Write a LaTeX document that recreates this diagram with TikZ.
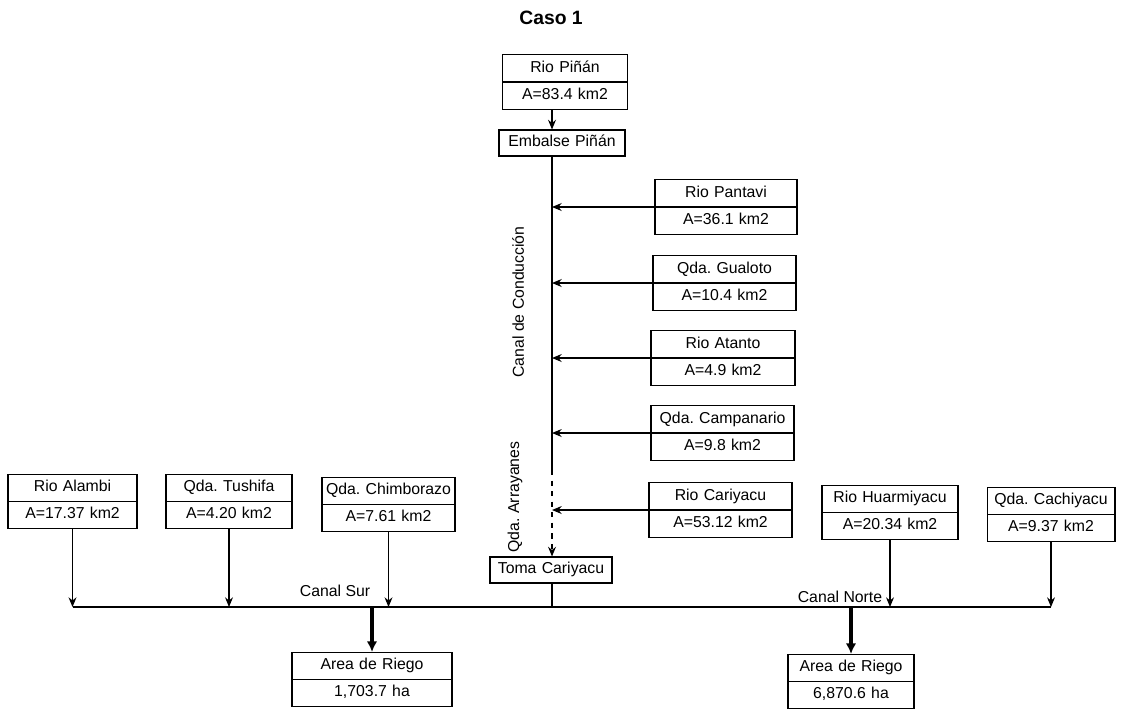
\documentclass[tikz,border=0pt]{standalone}
\usepackage{fontspec}
\setmainfont{Liberation Sans}
\usetikzlibrary{shapes.multipart,arrows.meta,positioning}

\begin{document}
\begin{tikzpicture}[
        x=0.02cm, y=-0.02cm,
        font=\fontsize{9}{11}\selectfont,
        line width=0.6pt,
        cuenca/.style={rectangle split, rectangle split parts=2, draw, align=center, inner xsep=0pt, inner ysep=1.9pt},
        caja/.style={rectangle, draw, align=center, inner xsep=0pt, inner ysep=1.9pt},
        arrow/.style={-{Stealth[length=5.5pt,width=4.5pt]}},
        riego/.style={-{Latex[length=6pt,width=6pt]}, line width=1.8pt}
    ]
        \useasboundingbox (0,0) rectangle (1125,714);

        % Titulo
        \node (titulo) at (551,18) {\bfseries\fontsize{11}{13}\selectfont Caso 1};

        % Cabecera y canal de conduccion
        \node[cuenca, text width=2.5cm] (pinan) at (565,82) {\strut Rio Piñán\nodepart{two}\strut A=83.4 km2};
        \node[caja, text width=2.52cm] (embalse) at (562,143) {\strut Embalse Piñán};
        \node[cuenca, text width=2.84cm] (pantavi) at (726,207) {\strut Rio Pantavi\nodepart{two}\strut A=36.1 km2};
        \node[cuenca, text width=2.86cm] (gualoto) at (724.5,283) {\strut Qda.\ Gualoto\nodepart{two}\strut A=10.4 km2};
        \node[cuenca, text width=2.88cm] (atanto) at (723,358) {\strut Rio Atanto\nodepart{two}\strut A=4.9 km2};
        \node[cuenca, text width=2.86cm] (campanario) at (722.5,433) {\strut Qda.\ Campanario\nodepart{two}\strut A=9.8 km2};
        \node[cuenca, text width=2.86cm] (cariyacu) at (720.5,510) {\strut Rio Cariyacu\nodepart{two}\strut A=53.12 km2};
        \node[caja, text width=2.44cm] (toma) at (551,570) {\strut Toma Cariyacu};

        % Canal Sur
        \node[cuenca, text width=2.58cm] (alambi) at (72.5,501.5) {\strut Rio Alambi\nodepart{two}\strut A=17.37 km2};
        \node[cuenca, text width=2.52cm] (tushifa) at (229,501.5) {\strut Qda.\ Tushifa\nodepart{two}\strut A=4.20 km2};
        \node[cuenca, text width=2.66cm] (chimborazo) at (388.5,504.5) {\strut Qda.\ Chimborazo\nodepart{two}\strut A=7.61 km2};
        \node[cuenca, text width=3.2cm] (riegosur) at (372,679.5) {\strut Area de Riego\nodepart{two}\strut 1,703.7 ha};

        % Canal Norte
        \node[cuenca, text width=2.72cm] (huarmiyacu) at (890,512.5) {\strut Rio Huarmiyacu\nodepart{two}\strut A=20.34 km2};
        \node[cuenca, text width=2.56cm] (cachiyacu) at (1051,514.5) {\strut Qda.\ Cachiyacu\nodepart{two}\strut A=9.37 km2};
        \node[cuenca, text width=2.52cm] (riegonorte) at (851,681.5) {\strut Area de Riego\nodepart{two}\strut 6,870.6 ha};

        % Etiquetas
        \node[rotate=90] (conduccion) at (518,302) {Canal de Conducción};
        \node[rotate=90] (arrayanes) at (515,497) {Qda.\ Arrayanes};
        \node (canalsur) at (335,591) {Canal Sur};
        \node (canalnorte) at (840,597) {Canal Norte};

        \coordinate (eje) at (552,0);
        \coordinate (quebrada) at (552,470);
        \coordinate (canal) at (0,607);

        % Conexiones
        \draw[arrow] (pinan.south -| eje) -- (embalse.north -| eje);
        \draw[line width=0.9pt] (embalse.south -| eje) -- (quebrada);
        \draw[arrow, dashed] (quebrada) -- (toma.north -| eje);
        \foreach \n in {pantavi,gualoto,atanto,campanario,cariyacu}
            \draw[arrow] (\n.west) -- (\n.west -| eje);
        \draw (alambi.south |- canal) -- (cachiyacu.south |- canal);
        \foreach \n in {alambi,tushifa,chimborazo,huarmiyacu,cachiyacu}
            \draw[arrow] (\n.south) -- (\n.south |- canal);
        \draw (toma.south -| eje) -- (eje |- canal);
        \draw[riego] (riegosur.north |- canal) -- (riegosur.north);
        \draw[riego] (riegonorte.north |- canal) -- (riegonorte.north);
    \end{tikzpicture}
\end{document}
